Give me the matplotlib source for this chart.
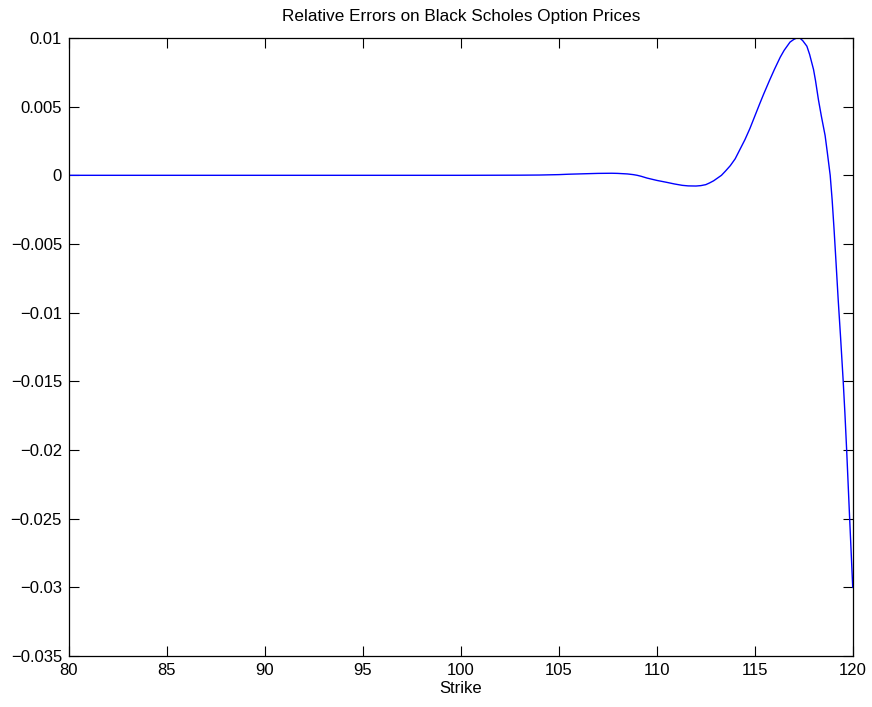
import matplotlib
matplotlib.use("Agg")
import matplotlib.pyplot as plt

# Strike grid and relative pricing error (approximation vs. Black Scholes)
strike = [80, 90, 100, 103, 104, 105, 105.5, 106, 106.5, 107, 107.7, 108.0,
          108.5, 108.8, 109.0, 109.2, 109.5, 110.0, 110.5, 110.9, 111.3,
          111.6, 112.0, 112.25, 112.5, 112.7, 112.9, 113.1, 113.3, 113.5,
          113.75, 114.0, 114.25, 114.5, 114.75, 115.0, 115.25, 115.45,
          115.75, 116.0, 116.3, 116.5, 116.8, 117.0, 117.15, 117.3, 117.45,
          117.66, 117.8, 118.0, 118.1, 118.25, 118.4, 118.59, 118.7, 118.85,
          118.95, 119.05, 119.15, 119.26, 119.38, 119.51, 119.6, 119.69,
          119.84, 120.0]
rel_error = [0.0, 0.0, 0.0, 0.00001, 0.00002, 0.00005, 0.00008, 0.0001,
             0.00012, 0.00014, 0.00015, 0.00014, 0.0001, 0.00005, 0.0,
             -0.00007, -0.0002, -0.00037, -0.00051, -0.00063, -0.00073,
             -0.00077, -0.00078, -0.00075, -0.00068, -0.00055, -0.0004,
             -0.0002, 0.0, 0.0003, 0.0007, 0.0012, 0.0019, 0.0026, 0.0034,
             0.0043, 0.0052, 0.0059, 0.0069, 0.0077, 0.0086, 0.0091, 0.0097,
             0.0099, 0.0100, 0.0100, 0.0098, 0.0094, 0.0088, 0.0077, 0.0069,
             0.0055, 0.0043, 0.0029, 0.0017, 0.0, -0.0018, -0.0040, -0.0064,
             -0.0091, -0.0118, -0.0149, -0.0173, -0.0200, -0.0249, -0.0300]

x_ticks = [80, 85, 90, 95, 100, 105, 110, 115, 120]
y_ticks = [0.01, 0.005, 0, -0.005, -0.01, -0.015, -0.02, -0.025, -0.03, -0.035]
y_labels = ["0.01", "0.005", "0", "\u22120.005", "\u22120.01", "\u22120.015",
            "\u22120.02", "\u22120.025", "\u22120.03", "\u22120.035"]

plt.rcParams["font.family"] = ["Liberation Sans", "DejaVu Sans"]

fig = plt.figure(figsize=(8.72, 7.07), dpi=100)
ax = fig.add_axes([0.0791, 0.0721, 0.8988, 0.8742])

ax.plot(strike, rel_error, color=(0, 0, 1), linewidth=1.0)

ax.set_xlim(80, 120)
ax.set_ylim(-0.035, 0.01)
ax.set_xticks(x_ticks)
ax.set_xticklabels([str(t) for t in x_ticks])
ax.set_yticks(y_ticks)
ax.set_yticklabels(y_labels)

ax.tick_params(direction="in", length=7, width=0.8, top=True, right=True,
               labelsize=12, pad=5, colors="black")
for spine in ax.spines.values():
    spine.set_linewidth(0.9)

ax.set_title("Relative Errors on Black Scholes Option Prices", fontsize=12.3, pad=12)
ax.set_xlabel("Strike", fontsize=12, labelpad=2)

fig.savefig("out.png", dpi=100)
